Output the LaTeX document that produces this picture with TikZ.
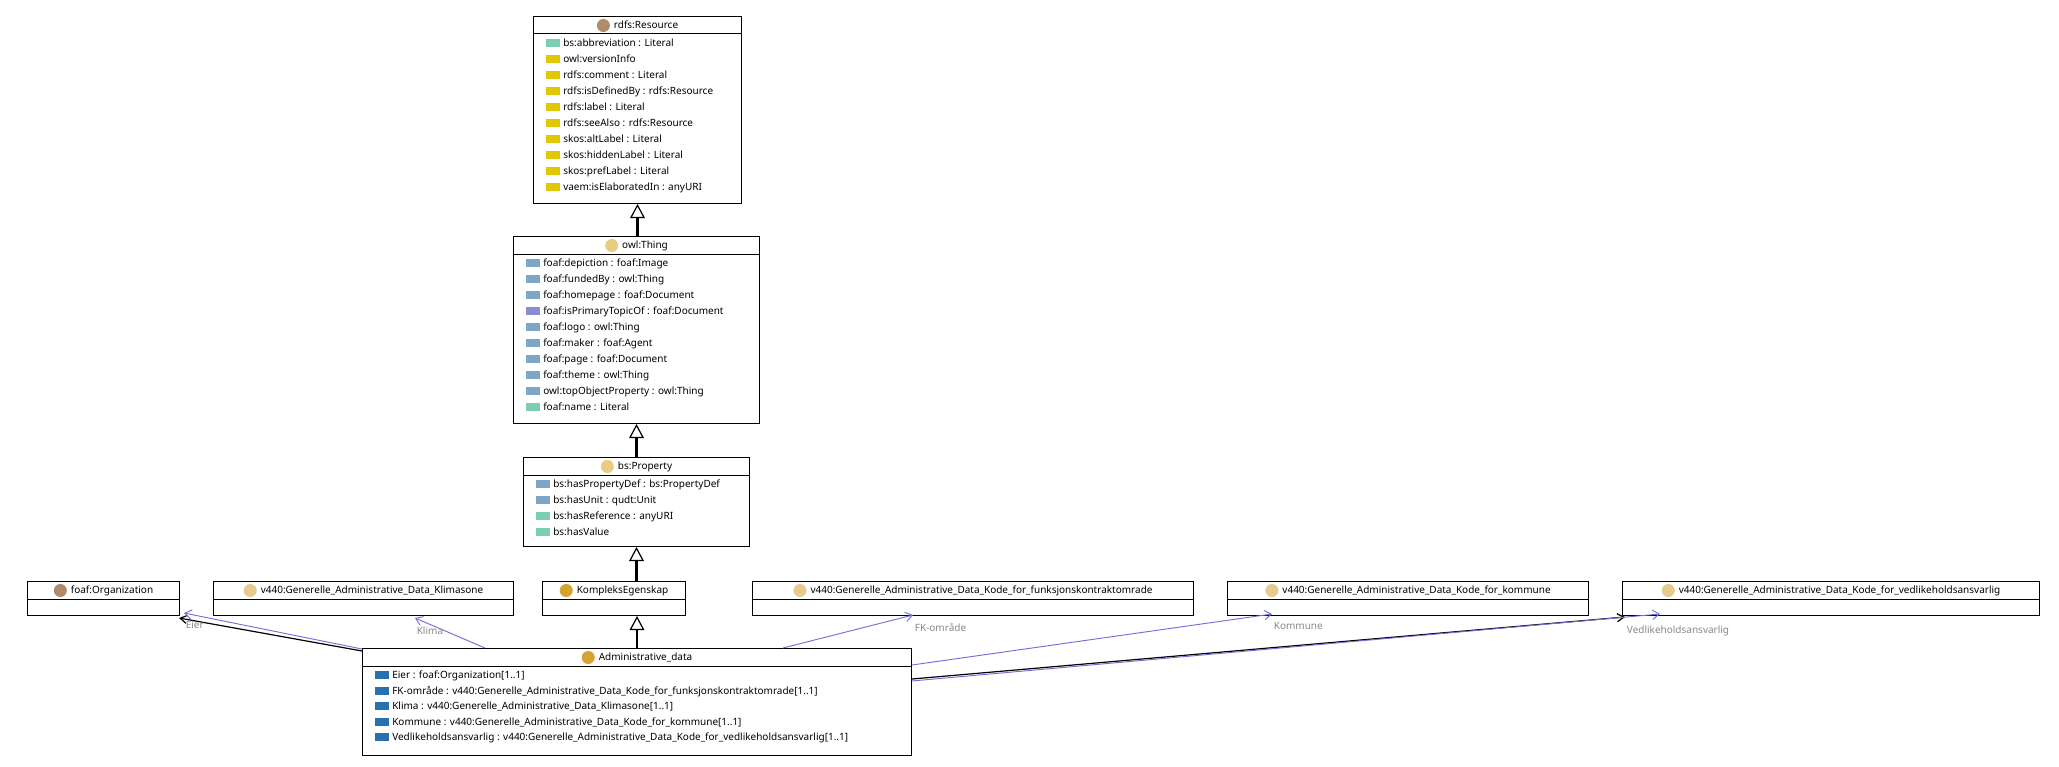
\documentclass[tikz,border=0pt]{standalone}
\usepackage{fontspec}
\setmainfont{Noto Sans}
\usetikzlibrary{arrows.meta,calc}

\definecolor{resbrown}{RGB}{176,140,108}
\definecolor{thingtan}{RGB}{232,204,130}
\definecolor{codetan}{RGB}{230,202,142}
\definecolor{kgold}{RGB}{214,162,50}
\definecolor{dtgreen}{RGB}{124,206,176}
\definecolor{annyellow}{RGB}{226,200,0}
\definecolor{objblue}{RGB}{126,166,198}
\definecolor{objpurple}{RGB}{136,142,206}
\definecolor{admblue}{RGB}{40,112,176}
\definecolor{assocblue}{RGB}{112,112,214}
\definecolor{lblgray}{RGB}{136,136,136}

\tikzset{
 classbox/.style={draw, line width=.75pt, anchor=north west, inner sep=0pt},
 proptext/.style={anchor=base west, inner sep=0pt},
 gen/.style={line width=1.6pt, -{Triangle[open, length=10.5pt, width=11pt, line width=.9pt, fill=white]}},
 assoc/.style={draw=assocblue, line width=.7pt, -{Straight Barb[length=5pt, width=7pt]}},
 restr/.style={line width=.9pt, -{Straight Barb[length=5pt, width=6pt]}},
 lbl/.style={anchor=north west, text=lblgray, inner sep=1pt, yshift=-5pt}
}

\newcommand{\owlclass}[6]{%
 \node ({#1}) [classbox, minimum width={#3*.75pt}, minimum height={#4*.75pt}] at (#2) {};%
 \draw [line width=.75pt] ($({#1}.north west)+(0,18)$) -- ($({#1}.north east)+(0,18)$);%
 \node at ($({#1}.north)+(0,9.5)$) {\tikz[baseline=-.65ex]\fill[#5] (0,0) circle[radius=4.9pt];\hspace{3pt}#6};%
}
\newcommand{\owlprops}[3]{%
 \foreach \c/\t [count=\i from 0] in {#3} {%
  \fill [\c] ($({#1}.north west)+(13,27+#2*\i)$) +(0,-4) rectangle +(14,4);%
  \node [proptext] at ($({#1}.north west)+(30,30.5+#2*\i)$) {\t};%
 }%
}

\begin{document}
\begin{tikzpicture}[x=.75pt, y=-.75pt, every node/.style={font=\fontsize{7.5}{9}\selectfont}]
  \useasboundingbox (0,0) rectangle (2059,767);
  \owlclass{res}{533,16}{208}{187}{resbrown}{rdfs:Resource};
  \owlprops{res}{16}{dtgreen/bs:abbreviation : Literal, annyellow/owl:versionInfo,
   annyellow/rdfs:comment : Literal, annyellow/rdfs:isDefinedBy : rdfs:Resource,
   annyellow/rdfs:label : Literal, annyellow/rdfs:seeAlso : rdfs:Resource,
   annyellow/skos:altLabel : Literal, annyellow/skos:hiddenLabel : Literal,
   annyellow/skos:prefLabel : Literal, annyellow/vaem:isElaboratedIn : anyURI};
  \owlclass{thing}{513,236}{246}{187}{thingtan}{owl:Thing};
  \owlprops{thing}{16}{objblue/foaf:depiction : foaf:Image, objblue/foaf:fundedBy : owl:Thing,
   objblue/foaf:homepage : foaf:Document, objpurple/foaf:isPrimaryTopicOf : foaf:Document,
   objblue/foaf:logo : owl:Thing, objblue/foaf:maker : foaf:Agent,
   objblue/foaf:page : foaf:Document, objblue/foaf:theme : owl:Thing,
   objblue/owl:topObjectProperty : owl:Thing, dtgreen/foaf:name : Literal};
  \owlclass{prop}{523,457}{226}{89}{thingtan}{bs:Property};
  \owlprops{prop}{16}{objblue/bs:hasPropertyDef : bs:PropertyDef, objblue/bs:hasUnit : qudt:Unit,
   dtgreen/bs:hasReference : anyURI, dtgreen/bs:hasValue};
  % bottom row
  \owlclass{org}{27,581}{152}{34}{resbrown}{foaf:Organization};
  \owlclass{klima}{213,581}{300}{34}{codetan}{v440:Generelle\_Administrative\_Data\_Klimasone};
  \owlclass{komp}{542,581}{143}{34}{kgold}{KompleksEgenskap};
  \owlclass{fk}{752,581}{441}{34}{codetan}{v440:Generelle\_Administrative\_Data\_Kode\_for\_funksjonskontraktomrade};
  \owlclass{kom}{1227,581}{361}{34}{codetan}{v440:Generelle\_Administrative\_Data\_Kode\_for\_kommune};
  \owlclass{ved}{1622,581}{417}{34}{codetan}{v440:Generelle\_Administrative\_Data\_Kode\_for\_vedlikeholdsansvarlig};
  \owlclass{admin}{362,648}{549}{107}{kgold}{Administrative\_data};
  \owlprops{admin}{15.5}{admblue/Eier : foaf:Organization[1..1],
   admblue/FK-område : v440:Generelle\_Administrative\_Data\_Kode\_for\_funksjonskontraktomrade[1..1],
   admblue/Klima : v440:Generelle\_Administrative\_Data\_Klimasone[1..1],
   admblue/Kommune : v440:Generelle\_Administrative\_Data\_Kode\_for\_kommune[1..1],
   admblue/Vedlikeholdsansvarlig : v440:Generelle\_Administrative\_Data\_Kode\_for\_vedlikeholdsansvarlig[1..1]};
  % subclass chain
  \draw[gen] (thing.north -| res.south) -- (res.south);
  \draw[gen] (prop.north) -- (thing.south -| prop.north);
  \draw[gen] (prop.south |- komp.north) -- (prop.south);
  \draw[gen] (admin.north) -- (admin.north |- komp.south);
  % properties
  \draw[restr] ($(admin.north west)+(0,3)$) -- ($(org.south east)+(-1,2)$);
  \draw[assoc] ($(admin.north west)+(0,1)$) -- ($(org.south east)+(4,-3)$) node[lbl] {Eier};
  \draw[assoc] ($(admin.north west)+(123,0)$) -- ($(klima.south west)+(202,2)$) node[lbl] {Klima};
  \draw[assoc] ($(admin.north west)+(421,0)$) -- ($(fk.south west)+(161,-1)$) node[lbl] {FK-område};
  \draw[assoc] ($(admin.north east)+(0,17)$) -- ($(kom.south west)+(45,-2)$) node[lbl] {Kommune};
  \draw[restr] ($(admin.north east)+(0,31)$) -- ($(ved.south west)+(3,1)$) node[lbl] {Vedlikeholdsansvarlig};
  \draw[assoc] ($(admin.north east)+(0,33)$) -- ($(ved.south west)+(38,-2)$);
\end{tikzpicture}
\end{document}
